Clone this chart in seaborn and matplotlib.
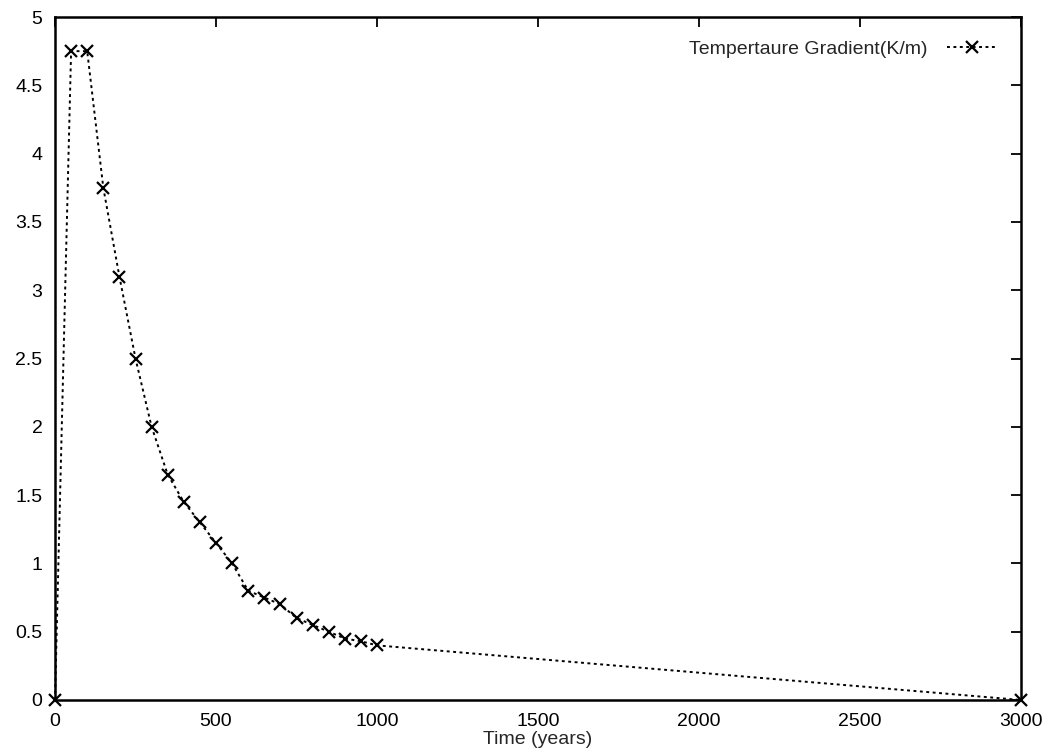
import matplotlib
matplotlib.use("Agg")
import matplotlib.pyplot as plt
import seaborn as sns
import pandas as pd

time_years = [0, 50, 100, 150, 200, 250, 300, 350, 400, 450, 500, 550, 600,
              650, 700, 750, 800, 850, 900, 950, 1000, 3000]
gradient = [0, 4.75, 4.75, 3.75, 3.1, 2.5, 2.0, 1.65, 1.45, 1.3, 1.15, 1.0, 0.8,
            0.75, 0.7, 0.6, 0.55, 0.5, 0.45, 0.43, 0.4, 0.0]
x_ticks = [0, 500, 1000, 1500, 2000, 2500, 3000]
y_ticks = [0, 0.5, 1, 1.5, 2, 2.5, 3, 3.5, 4, 4.5, 5]
y_tick_labels = ["0", "0.5", "1", "1.5", "2", "2.5", "3", "3.5", "4", "4.5", "5"]

sns.set_theme(style="white")
plt.rcParams['font.family'] = ['Liberation Sans', 'DejaVu Sans']

df = pd.DataFrame({"Time (years)": time_years, "grad": gradient})

W, H = 1051, 756
left, right, top, bottom = 55, 1021, 17, 700
fig = plt.figure(figsize=(W/100, H/100), dpi=100)
ax = fig.add_axes([left/W, 1 - bottom/H, (right-left)/W, (bottom-top)/H])
sns.lineplot(data=df, x="Time (years)", y="grad", ax=ax, color="black",
             linestyle=(0, (1.5, 1.8)), linewidth=1.4, marker="x", markersize=8,
             markeredgewidth=1.6, markeredgecolor="black",
             label="Tempertaure Gradient(K/m)")
ax.set_xlim(0, 3000)
ax.set_ylim(0, 5)
ax.set_xticks(x_ticks)
ax.set_xticklabels([str(t) for t in x_ticks])
ax.set_yticks(y_ticks)
ax.set_yticklabels(y_tick_labels)
ax.set_xlabel("Time (years)", fontsize=14, labelpad=1)
ax.set_ylabel("")
ax.tick_params(direction="in", length=7, width=1.3, top=True, right=True,
               labelsize=14, colors="black", pad=9)
for s in ax.spines.values():
    s.set_color("black")
    s.set_linewidth(1.8)
for line in ax.lines:
    line.set_clip_on(False)
leg = ax.legend(loc="upper right", frameon=False, markerfirst=False,
                fontsize=14, handlelength=2.6, handletextpad=1.0,
                borderaxespad=0.8)
fig.savefig("out.png", dpi=100)
